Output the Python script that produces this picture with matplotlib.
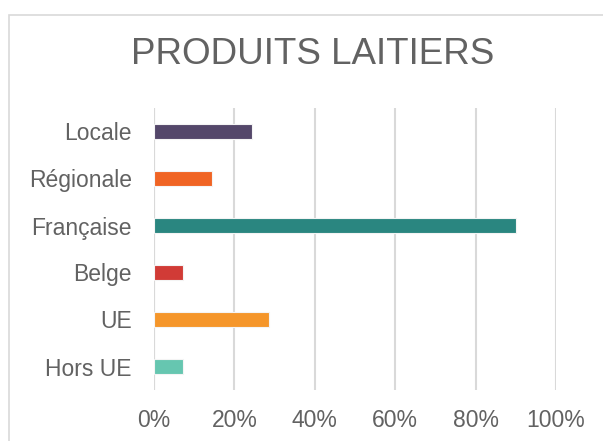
import matplotlib
matplotlib.use("Agg")
import matplotlib.pyplot as plt
from matplotlib.patches import Rectangle
from matplotlib.ticker import FuncFormatter

categories = ["Locale", "Régionale", "Française", "Belge", "UE", "Hors UE"]
values = [24.3, 14.4, 90.1, 7.3, 28.7, 7.3]
colors = ["#54476a", "#f06424", "#2a8680", "#d13b36", "#f5962a", "#66c6b0"]
xticks = [0, 20, 40, 60, 80, 100]
title = "PRODUITS LAITIERS"

plt.rcParams['font.family'] = ['Liberation Sans', 'DejaVu Sans']
text_color = "#626262"
grid_color = "#d9d9d9"

fig = plt.figure(figsize=(6.03, 4.41), dpi=100)
fig.patch.set_facecolor("white")
fig.patches.append(Rectangle((9/603, -0.05), 1.0, 1 - 15/441 + 0.05,
                             transform=fig.transFigure, fill=False,
                             edgecolor=grid_color, linewidth=1.2))

ax = fig.add_axes([154/603, (441-390)/441, (556-154)/603, (390-108)/441])
ypos = list(range(len(categories)))
ax.barh(ypos, values, height=0.32, color=colors, edgecolor="#f4f4f4", linewidth=0.8, zorder=3)
ax.set_ylim(len(categories) - 0.5, -0.5)
ax.set_xlim(0, 100)
ax.set_yticks(ypos)
ax.set_yticklabels(categories)
ax.set_xticks(xticks)
ax.xaxis.set_major_formatter(FuncFormatter(lambda v, p: f"{int(v)}%"))
ax.tick_params(axis='both', length=0, colors=text_color, labelsize=16.5)
ax.tick_params(axis='x', pad=14)
ax.tick_params(axis='y', pad=16)
ax.grid(axis='x', color=grid_color, linewidth=1.5, zorder=0)
for s in ax.spines.values():
    s.set_visible(False)
ax.axvline(0, color=grid_color, linewidth=1.5, zorder=1)

fig.text(313/603, 1 - 55/441, title, ha='center', va='center',
         fontsize=26.5, color=text_color)

fig.savefig("out.png", dpi=100)
